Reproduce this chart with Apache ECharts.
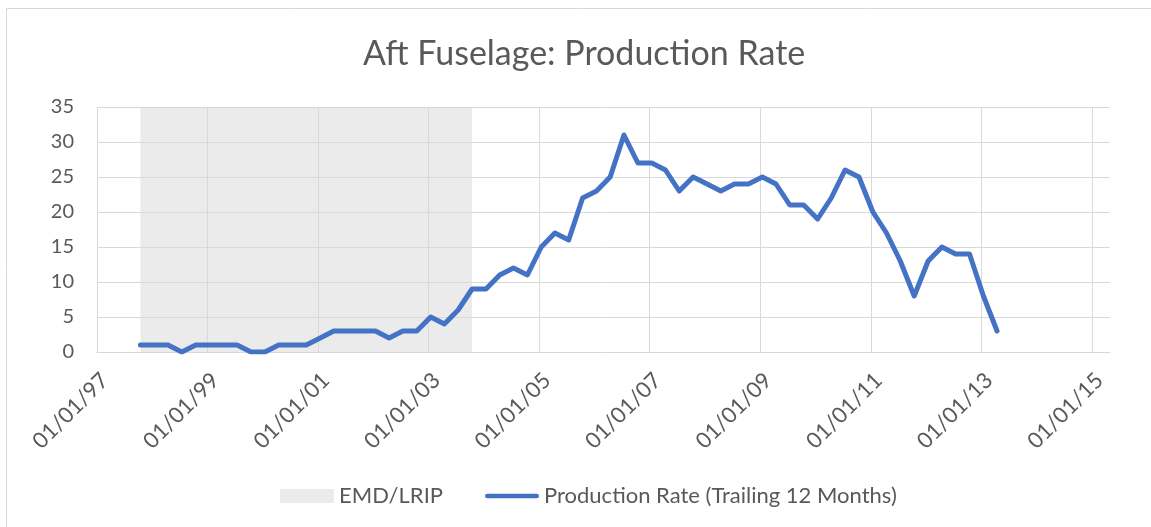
<!DOCTYPE html>
<html>
<head>
<meta charset="utf-8">
<title>Aft Fuselage: Production Rate</title>
<script src="https://cdn.jsdelivr.net/npm/echarts@6/dist/echarts.min.js"></script>
<style>
html, body { margin: 0; padding: 0; background: #fff; }
#chart { width: 1151px; height: 527px; }
</style>
</head>
<body>
<div id="chart"></div>
<script>
// quarterly points (trailing 12 months)
var quarterDates = [
    '1997-10-15',
    '1998-01-15', '1998-04-15', '1998-07-15', '1998-10-15',
    '1999-01-15', '1999-04-15', '1999-07-15', '1999-10-15',
    '2000-01-15', '2000-04-15', '2000-07-15', '2000-10-15',
    '2001-01-15', '2001-04-15', '2001-07-15', '2001-10-15',
    '2002-01-15', '2002-04-15', '2002-07-15', '2002-10-15',
    '2003-01-15', '2003-04-15', '2003-07-15', '2003-10-15',
    '2004-01-15', '2004-04-15', '2004-07-15', '2004-10-15',
    '2005-01-15', '2005-04-15', '2005-07-15', '2005-10-15',
    '2006-01-15', '2006-04-15', '2006-07-15', '2006-10-15',
    '2007-01-15', '2007-04-15', '2007-07-15', '2007-10-15',
    '2008-01-15', '2008-04-15', '2008-07-15', '2008-10-15',
    '2009-01-15', '2009-04-15', '2009-07-15', '2009-10-15',
    '2010-01-15', '2010-04-15', '2010-07-15', '2010-10-15',
    '2011-01-15', '2011-04-15', '2011-07-15', '2011-10-15',
    '2012-01-15', '2012-04-15', '2012-07-15', '2012-10-15',
    '2013-01-15', '2013-04-15'
];
var productionRate = [
    1,
    1, 1, 0, 1,
    1, 1, 1, 0,
    0, 1, 1, 1,
    2, 3, 3, 3,
    3, 2, 3, 3,
    5, 4, 6, 9,
    9, 11, 12, 11,
    15, 17, 16, 22,
    23, 25, 31, 27,
    27, 26, 23, 25,
    24, 23, 24, 24,
    25, 24, 21, 21,
    19, 22, 26, 25,
    20, 17, 13, 8,
    13, 15, 14, 14,
    8, 3
];
// EMD/LRIP shaded period
var emdDates = ['1997-10-15', '2003-10-15'];
var emdLevel = [35, 35];

var axisStart = 1997;          // 01/01/97
var axisEnd = '2015-05-01';
var yTicks = [0, 35, 5];       // min, max, step

// years since 01/01/97 (fraction of year by day)
function yearsSince(s) {
    var p = s.split('-');
    var y = +p[0];
    var t = Date.UTC(y, p[1] - 1, +p[2]);
    var y0 = Date.UTC(y, 0, 1), y1 = Date.UTC(y + 1, 0, 1);
    return y - axisStart + (t - y0) / (y1 - y0);
}

var lineData = quarterDates.map(function (d, i) { return [yearsSince(d), productionRate[i]]; });
var emdData = emdDates.map(function (d, i) { return [yearsSince(d), emdLevel[i]]; });

var txt = '#595959';
var gridColor = '#d9d9d9';
var blue = '#4472c4';
var font = 'Lato';

var option = {
    animation: false,
    title: {
        text: 'Aft Fuselage: Production Rate',
        left: 358,
        top: 32,
        textStyle: { color: txt, fontSize: 34, fontWeight: 'normal', fontFamily: font }
    },
    legend: {
        left: 275,
        top: 480,
        itemWidth: 54,
        itemHeight: 14,
        itemGap: 42,
        textStyle: { color: txt, fontSize: 22, fontFamily: font },
        data: [
            { name: 'EMD/LRIP', icon: 'rect' },
            {
                name: 'Production Rate (Trailing 12 Months)',
                icon: 'path://M2.5,0 L54.5,0 A2.5,2.5 0 0 1 54.5,5 L2.5,5 A2.5,2.5 0 0 1 2.5,0 Z'
            }
        ]
    },
    grid: { left: 97, right: 41, top: 107, bottom: 175, containLabel: false },
    xAxis: {
        type: 'value',
        min: 0,
        max: yearsSince(axisEnd),
        interval: 2,
        axisLine: { show: true, lineStyle: { color: gridColor, width: 1 } },
        axisTick: { show: false },
        splitLine: { show: true, showMaxLine: false, lineStyle: { color: gridColor, width: 1 } },
        axisLabel: {
            rotate: 45,
            margin: 17,
            verticalAlign: 'top',
            color: txt,
            fontSize: 22,
            fontFamily: font,
            showMaxLabel: false,
            formatter: function (v) {
                var r = Math.round(v);
                if (Math.abs(v - r) > 1e-6 || r % 2) return '';
                var yy = (axisStart + r) % 100;
                return '01/01/' + (yy < 10 ? '0' : '') + yy;
            }
        }
    },
    yAxis: {
        type: 'value',
        min: yTicks[0],
        max: yTicks[1],
        interval: yTicks[2],
        axisLine: { show: false },
        axisTick: { show: false },
        splitLine: { lineStyle: { color: gridColor, width: 1 } },
        axisLabel: { margin: 23, color: txt, fontSize: 20, fontFamily: font }
    },
    series: [
        {
            name: 'EMD/LRIP',
            type: 'line',
            z: -1,
            silent: true,
            symbol: 'none',
            data: emdData,
            itemStyle: { color: '#ebebeb' },
            lineStyle: { width: 0 },
            areaStyle: { color: '#ebebeb', opacity: 1 }
        },
        {
            name: 'Production Rate (Trailing 12 Months)',
            type: 'line',
            z: 3,
            symbol: 'none',
            data: lineData,
            itemStyle: { color: blue },
            lineStyle: { color: blue, width: 5, cap: 'round', join: 'round' }
        }
    ],
    graphic: [
        {
            type: 'rect',
            silent: true,
            shape: { x: 6.5, y: 8.5, width: 1200, height: 600 },
            style: { fill: 'none', stroke: gridColor, lineWidth: 1 }
        }
    ]
};

var chart = echarts.init(document.getElementById('chart'));
chart.setOption(option);
</script>
</body>
</html>
